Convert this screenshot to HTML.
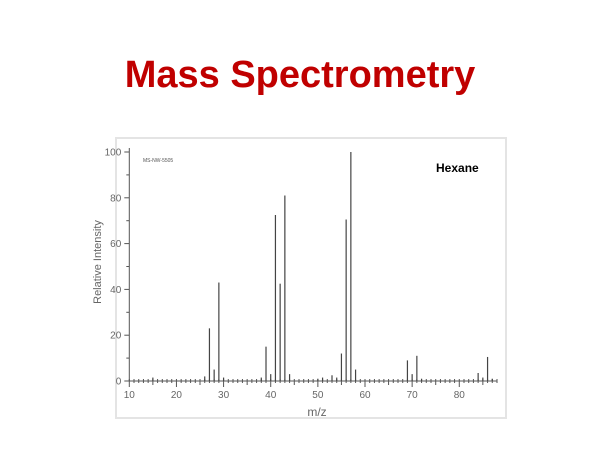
<!DOCTYPE html>
<html><head><meta charset="utf-8"><style>
body{margin:0;background:#fff;width:600px;height:450px;overflow:hidden;font-family:"Liberation Sans",sans-serif}
</style></head><body>
<div style="position:absolute;left:0;top:54px;width:600px;text-align:center;color:#c00000;font-weight:bold;font-size:38px;">Mass Spectrometry</div>
<svg id="chart" width="600" height="450" style="position:absolute;left:0;top:0">
<rect x="116" y="138" width="390" height="280" fill="none" stroke="#e4e4e4" stroke-width="2"/>
<text x="143" y="162" font-size="5" fill="#555">MS-NW-5505</text>
<text x="436" y="172" font-size="12" font-weight="bold" fill="#000">Hexane</text>
<text transform="translate(101,262) rotate(-90)" text-anchor="middle" font-size="11" fill="#666">Relative Intensity</text>
<text x="317" y="416" text-anchor="middle" font-size="12" fill="#666">m/z</text>
<g id="g"></g>
</svg>
<script>
const mz=[15,26,27,28,29,30,38,39,40,41,42,43,44,50,51,53,54,55,56,57,58,69,70,71,72,84,85,86,87];
const intensity=[1.5,2,23,5,43,1.5,1.5,15,3,72.5,42.5,81,3,1,1.5,2.5,1.5,12,70.5,100,5,9,3,11,1,3.5,1.5,10.5,1];
const xTicks=[10,20,30,40,50,60,70,80];
const yTicks=[0,20,40,60,80,100];
const X=v=>129.3+(v-10)*4.714;
const Y=v=>381-v*2.29;
const g=document.getElementById('g');
const NS='http://www.w3.org/2000/svg';
function mk(t,a){const e=document.createElementNS(NS,t);for(const k in a)e.setAttribute(k,a[k]);g.appendChild(e);return e;}
let e=mk('line',{x1:X(10),x2:X(10),y1:Y(100)-4,y2:Y(0),stroke:'#555'});

e=mk('line',{x1:X(10),x2:X(88),y1:Y(0),y2:Y(0),stroke:'#555'});

for(let v=10;v<=88;v++){const maj=v%5==0;
 e=mk('line',{x1:X(v),x2:X(v),y1:Y(0)-2,y2:Y(0)+(maj?(v%10==0?6:4):2),stroke:'#555'});
 }
xTicks.forEach(v=>{e=mk('text',{x:X(v),y:Y(0)+17,'text-anchor':'middle','font-size':'10',fill:'#666'});e.textContent=v;
 });
for(let v=0;v<=100;v+=10){e=mk('line',{x1:X(10)-(v%20==0?5:3),x2:X(10),y1:Y(v),y2:Y(v),stroke:'#555'});
 }
yTicks.forEach(v=>{e=mk('text',{x:X(10)-8,y:Y(v)+3.5,'text-anchor':'end','font-size':'10',fill:'#666'});e.textContent=v;
 });
mz.forEach((m,i)=>{e=mk('line',{x1:X(m),x2:X(m),y1:Y(0),y2:Y(intensity[i]),stroke:'#444','stroke-width':'1.2'});
 });
</script>
</body></html>
